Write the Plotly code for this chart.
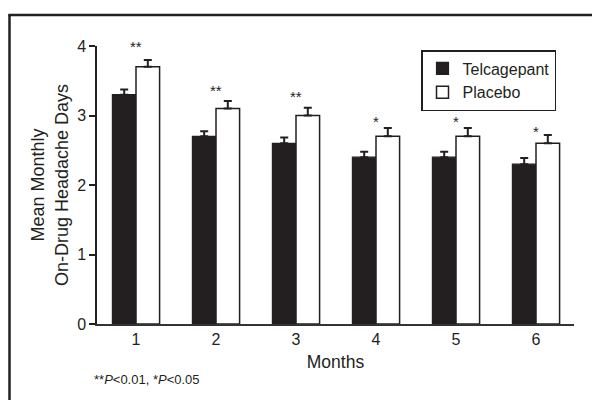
import plotly.graph_objects as go

# ---- data ----
months = [1, 2, 3, 4, 5, 6]
month_labels = ["1", "2", "3", "4", "5", "6"]
telcagepant = [3.3, 2.7, 2.6, 2.4, 2.4, 2.3]
telcagepant_err = [0.075, 0.075, 0.085, 0.08, 0.08, 0.09]
placebo = [3.7, 3.1, 3.0, 2.7, 2.7, 2.6]
placebo_err = [0.10, 0.11, 0.11, 0.12, 0.12, 0.12]
sig_labels = ["**", "**", "**", "*", "*", "*"]
sig_y = [4.0, 3.36, 3.28, 2.92, 2.92, 2.77]
y_ticks = [0, 1, 2, 3, 4]

FONT = "Liberation Sans, Arial, Helvetica, sans-serif"
DARK = "#231f20"

W, H = 592, 400
ML, MR, MT, MB = 97, 18, 46, 76
PW, PH = W - ML - MR, H - MT - MB


def px_x(px):
    return (px - ML) / PW


def px_y(py):
    return 1 - (py - MT) / PH


fig = go.Figure()
fig.add_trace(go.Bar(
    x=months, y=telcagepant, name="Telcagepant",
    marker=dict(color=DARK, line=dict(color=DARK, width=1.2)),
    error_y=dict(type="data", array=telcagepant_err, arrayminus=[0] * 6,
                 symmetric=False, color=DARK, thickness=2, width=4),
))
fig.add_trace(go.Bar(
    x=months, y=placebo, name="Placebo",
    marker=dict(color="white", line=dict(color=DARK, width=1.5)),
    error_y=dict(type="data", array=placebo_err, arrayminus=[0] * 6,
                 symmetric=False, color=DARK, thickness=2, width=4),
))

for m, lab, yy in zip(months, sig_labels, sig_y):
    fig.add_annotation(x=m, y=yy, xref="x", yref="y", text=lab, showarrow=False,
                       font=dict(size=15, color=DARK, family=FONT),
                       xanchor="center", yanchor="middle")

# footnote
fig.add_annotation(x=px_x(92), y=px_y(379), xref="paper", yref="paper",
                   text="**<i>P</i>&lt;0.01, *<i>P</i>&lt;0.05",
                   showarrow=False, xanchor="left", yanchor="middle",
                   font=dict(size=13, color=DARK, family=FONT))

# outer frame (left and top edges)
fig.add_shape(type="line", xref="paper", yref="paper",
              x0=px_x(9.5), x1=px_x(9.5), y0=px_y(15), y1=px_y(402),
              line=dict(color=DARK, width=2.5))
fig.add_shape(type="line", xref="paper", yref="paper",
              x0=px_x(8.3), x1=px_x(594), y0=px_y(15), y1=px_y(15),
              line=dict(color=DARK, width=2.5))

fig.update_layout(
    width=W, height=H,
    margin=dict(l=ML, r=MR, t=MT, b=MB, autoexpand=False),
    paper_bgcolor="white", plot_bgcolor="white",
    font=dict(family=FONT, size=16, color=DARK),
    barmode="group", bargap=0.41, bargroupgap=0,
    showlegend=True,
    legend=dict(x=px_x(421), y=px_y(50), xanchor="left", yanchor="top",
                bgcolor="white", bordercolor=DARK, borderwidth=1.5,
                font=dict(size=16, family=FONT, color=DARK),
                tracegroupgap=0, itemwidth=30),
    xaxis=dict(range=[0.5125, 6.475], tickmode="array", tickvals=months,
               ticktext=month_labels, showgrid=False, zeroline=False,
               showline=True, linecolor="#333", linewidth=1.5, ticks="",
               tickfont=dict(size=16), automargin=False,
               title=dict(text="Months", font=dict(size=17.5), standoff=9)),
    yaxis=dict(range=[0, 4], tickmode="array", tickvals=y_ticks,
               showgrid=False, zeroline=False, showline=True, linecolor=DARK,
               linewidth=1.5, ticks="outside", ticklen=6, tickwidth=1.5,
               tickcolor=DARK, tickfont=dict(size=16), automargin=False,
               title=dict(text="Mean Monthly<br>On-Drug Headache Days",
                          font=dict(size=18), standoff=4)),
)

fig.write_html("out.html",
               config={"displayModeBar": False},
               post_script="document.body.style.margin='0';"
                           "document.body.style.padding='0';")
